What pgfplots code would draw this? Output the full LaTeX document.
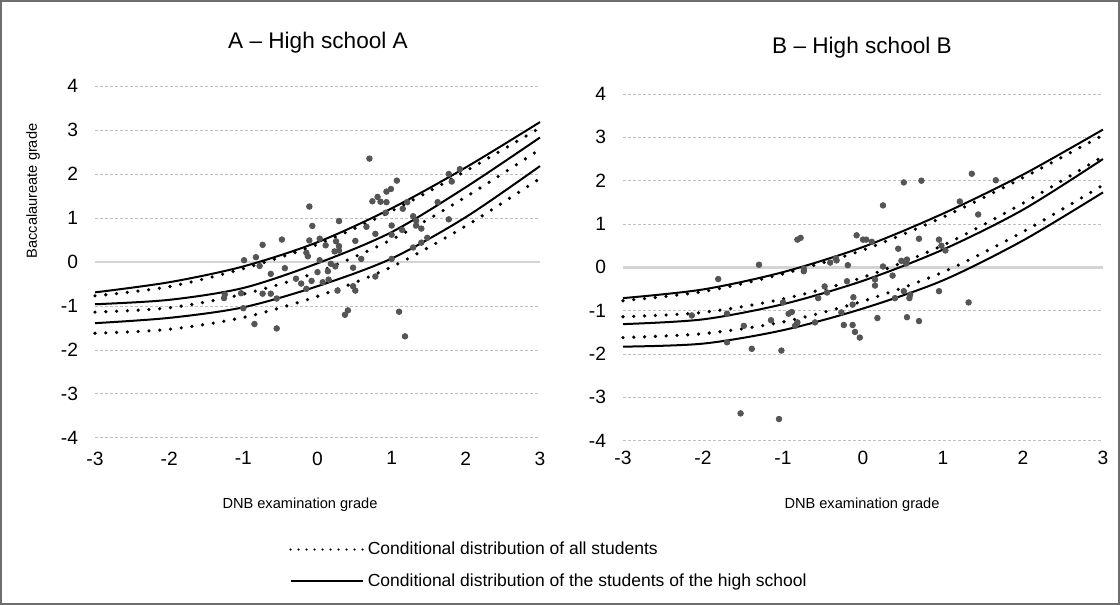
\documentclass[border=0pt]{standalone}
\usepackage{pgfplots}
\pgfplotsset{compat=1.18}
\usepackage{fontspec}
\setmainfont{Liberation Sans}
\definecolor{ptc}{RGB}{85,85,85}
\definecolor{gridc}{RGB}{191,191,191}
\definecolor{zeroc}{RGB}{212,212,212}
\definecolor{framec}{RGB}{110,110,110}

\pgfplotsset{
  panel/.style={scale only axis, xmin=-3, xmax=3, ymin=-4, ymax=4,
    xtick={-3,...,3}, xticklabels={-3,-2,-1,0,1,2,3},
    ytick={-4,-3,-2,-1,1,2,3,4}, yticklabels={-4,-3,-2,-1,1,2,3,4},
    extra y ticks={0}, extra y tick labels={0}, extra y tick style={grid=none},
    axis line style={draw=none}, tick style={draw=none},
    ymajorgrids, major grid style={color=gridc, dash pattern=on 1.5pt off 1pt, line width=0.5pt},
    tick label style={font=\fontsize{9.6}{11}\selectfont},
    yticklabel style={xshift=-5pt},
    clip=false},
  dotc/.style={black, line width=1.8pt, line cap=round, dash pattern=on 0pt off 5.4pt, smooth, forget plot},
  solc/.style={black, line width=1pt, smooth, forget plot},
  sc/.style={only marks, mark=*, mark size=1.4pt, color=ptc, forget plot},
  zl/.style={color=zeroc, solid, line width=1.3pt, no marks, forget plot},
}

\begin{document}
\begin{tikzpicture}
\path[use as bounding box] (0,0) rectangle (560pt,302.5pt);
\draw[framec, line width=0.8pt] (0.4pt,0.4pt) rectangle (559.6pt,302.1pt);

% ---------------- Panel A ----------------
\begin{axis}[panel, at={(47.5pt,83.5pt)}, anchor=south west, width=222.5pt, height=176pt,
  xticklabel style={yshift=-3.3pt},
  legend cell align=left,
  legend style={at={(axis description cs:0.436,-0.362)}, anchor=west, draw=none, fill=none,
    font=\fontsize{8.75}{10}\selectfont, row sep=4pt, inner sep=0pt}]
\addplot[zl] table {
x y
-3 0
3 0
};
\addplot[sc] coordinates {
(0.70,2.35) (1.07,1.85) (0.99,1.66) (0.93,1.60) (0.81,1.48) (0.74,1.38) (0.85,1.37) (0.93,1.36)
(1.92,2.11) (1.77,2.00) (1.81,1.83) (1.62,1.36) (1.21,1.36) (1.15,1.21) (0.92,1.12)
(1.29,1.04) (1.33,0.94) (1.77,0.97) (1.00,0.83) (1.33,0.83) (1.40,0.76) (1.14,0.73)
(0.66,0.80) (0.78,0.64) (1.00,0.62) (1.48,0.55) (1.40,0.44) (1.29,0.33)
(0.29,0.93) (-0.07,0.82) (-0.11,1.26) (-0.11,0.49) (0.03,0.53) (0.11,0.38) (0.25,0.47) (0.29,0.36) (0.51,0.48)
(0.23,0.24) (0.29,0.26) (-0.15,0.21) (-0.13,0.13)
(-0.48,0.51) (-0.74,0.39) (-0.99,0.04) (-0.83,0.11) (-0.78,-0.09)
(0.03,0.04) (0.18,-0.04) (0.24,-0.10)
(0.59,0.07) (1.00,0.07)
(-0.63,-0.27) (-0.44,-0.14) (0.00,-0.23) (0.14,-0.21) (0.48,-0.13)
(-0.29,-0.38) (-0.08,-0.43) (-0.22,-0.49) (0.07,-0.46) (0.15,-0.40) (-0.15,-0.61)
(0.27,-0.65) (0.48,-0.55) (0.51,-0.65)
(-0.74,-0.72) (-0.63,-0.72) (-0.55,-0.83) (-1.03,-0.71) (-1.25,-0.74) (-1.26,-0.82)
(-1.00,-1.05) (-0.85,-1.41) (-0.55,-1.51) (0.37,-1.20) (0.41,-1.10)
(0.78,-0.33) (1.10,-1.13) (1.18,-1.69)
};
% all students (dotted)
\addplot[dotc] coordinates {(-3,-0.77) (-2,-0.56) (-1,-0.15) (0,0.40) (1,1.16) (2,2.07) (3,3.05)};
\addplot[dotc] coordinates {(-3,-1.14) (-2,-1.04) (-1,-0.73) (0,-0.23) (1,0.51) (2,1.48) (3,2.56)};
\addplot[dotc] coordinates {(-3,-1.62) (-2,-1.53) (-1,-1.26) (0,-0.78) (1,-0.11) (2,0.82) (3,1.90)};
% high school A (solid)
\addplot[solc] coordinates {(-3,-0.69) (-2,-0.46) (-1,-0.10) (0,0.45) (1,1.22) (2,2.15) (3,3.18)};
\addplot[solc] coordinates {(-3,-0.96) (-2,-0.86) (-1,-0.59) (0,-0.03) (1,0.68) (2,1.70) (3,2.83)};
\addplot[solc] coordinates {(-3,-1.39) (-2,-1.27) (-1,-1.03) (0,-0.55) (1,0.08) (2,1.02) (3,2.18)};

\addlegendimage{legend image code/.code={\draw[black,line width=1.2pt,line cap=round,dash pattern=on 0pt off 4pt] (0pt,0pt) -- (36pt,0pt);}}
\addlegendentry{Conditional distribution of all students}
\addlegendimage{legend image code/.code={\draw[black,line width=1pt] (0pt,0pt) -- (36pt,0pt);}}
\addlegendentry{Conditional distribution of the students of the high school}
\end{axis}

% ---------------- Panel B ----------------
\begin{axis}[panel, at={(311.5pt,82.15pt)}, anchor=south west, width=240pt, height=173.35pt,
  xticklabel style={yshift=-1.8pt}]
\addplot[zl] table {
x y
-3 0
3 0
};
\addplot[sc] coordinates {
(-1.53,-3.37) (-1.05,-3.50)
(0.51,1.96) (0.73,2.00) (1.36,2.16) (1.66,2.01)
(0.25,1.43) (1.21,1.52) (1.44,1.22)
(-0.82,0.64) (-0.78,0.68)
(-0.08,0.74) (0.00,0.64) (0.04,0.64) (0.11,0.59)
(0.70,0.66) (0.95,0.64) (0.98,0.50) (1.03,0.39) (0.44,0.43)
(-1.30,0.06)
(-0.41,0.11) (-0.34,0.21) (-0.33,0.16)
(-0.19,0.05)
(-0.74,-0.03) (-0.74,-0.09)
(0.25,0.02)
(0.48,0.15) (0.54,0.09) (0.55,0.18)
(-1.81,-0.27)
(-0.20,-0.32)
(0.15,-0.28) (0.15,-0.42)
(0.37,-0.19)
(-0.48,-0.44) (-0.45,-0.58)
(-0.56,-0.71)
(-0.12,-0.69) (-0.13,-0.86)
(0.40,-0.71) (0.51,-0.55) (0.59,-0.63) (0.58,-0.71)
(0.95,-0.55)
(1.32,-0.81)
(-1.00,-0.81)
(-2.14,-1.11) (-1.70,-1.07)
(-1.49,-1.35) (-1.15,-1.22)
(-0.93,-1.07) (-0.89,-1.03)
(-0.85,-1.35) (-0.82,-1.27)
(-0.60,-1.27)
(-0.27,-1.04)
(-0.24,-1.33) (-0.13,-1.33) (-0.10,-1.49) (-0.04,-1.62)
(0.18,-1.17) (0.55,-1.15) (0.70,-1.24)
(-1.70,-1.73) (-1.39,-1.88) (-1.02,-1.92)
};
\addplot[dotc] coordinates {(-3,-0.77) (-2,-0.56) (-1,-0.15) (0,0.40) (1,1.16) (2,2.07) (3,3.05)};
\addplot[dotc] coordinates {(-3,-1.14) (-2,-1.04) (-1,-0.73) (0,-0.23) (1,0.51) (2,1.48) (3,2.56)};
\addplot[dotc] coordinates {(-3,-1.62) (-2,-1.53) (-1,-1.26) (0,-0.78) (1,-0.11) (2,0.82) (3,1.90)};
\addplot[solc] coordinates {(-3,-0.71) (-2,-0.51) (-1,-0.11) (0,0.47) (1,1.24) (2,2.14) (3,3.18)};
\addplot[solc] coordinates {(-3,-1.31) (-2,-1.20) (-1,-0.85) (0,-0.31) (1,0.41) (2,1.33) (3,2.50)};
\addplot[solc] coordinates {(-3,-1.83) (-2,-1.76) (-1,-1.45) (0,-0.95) (1,-0.30) (2,0.62) (3,1.73)};
\end{axis}

% titles and labels
\node[font=\fontsize{11.3}{13}\selectfont] at (159pt,281pt) {A -- High school A};
\node[font=\fontsize{11.3}{13}\selectfont] at (431pt,278.5pt) {B -- High school B};
\node[font=\fontsize{7.3}{9}\selectfont] at (150pt,50pt) {DNB examination grade};
\node[font=\fontsize{7.3}{9}\selectfont] at (431pt,50pt) {DNB examination grade};
\node[font=\fontsize{7.3}{9}\selectfont, rotate=90] at (16.5pt,207pt) {Baccalaureate grade};
\end{tikzpicture}
\end{document}
